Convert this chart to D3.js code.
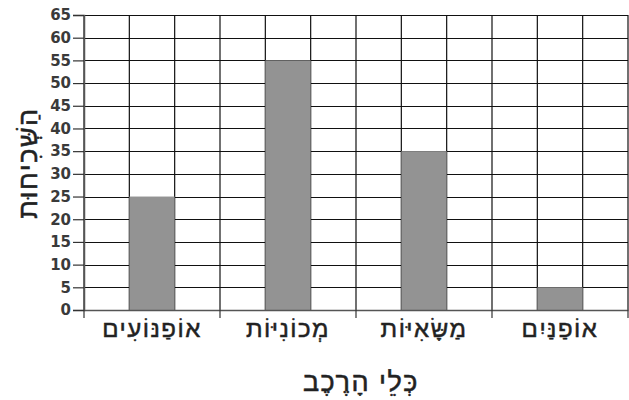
<!DOCTYPE html>
<html>
<head>
<meta charset="utf-8">
<script src="https://cdn.jsdelivr.net/npm/d3@7"></script>
<style>
  body { margin: 0; background: #fff; }
  svg { display: block; }
</style>
</head>
<body>
<svg id="chart"></svg>
<script>
// data, left to right as drawn
var categories = ["אוֹפַנּוֹעִים", "מְכוֹנִיּוֹת", "מַשָּׂאִיּוֹת", "אוֹפַנַּיִם"];
var values = [25, 55, 35, 5];
var yTicks = [0, 5, 10, 15, 20, 25, 30, 35, 40, 45, 50, 55, 60, 65];
var xTitle = "כְּלֵי הָרֶכֶב";
var yTitle = "הַשְּׁכִיחוּת";

var width = 629, height = 400;
var margin = {top: 15, right: 1, bottom: 90, left: 84};
var w = width - margin.left - margin.right,
    h = height - margin.top - margin.bottom;

var hebFont = "Liberation Sans, Arial, sans-serif";

var svg = d3.select("#chart").attr("width", width).attr("height", height);
var g = svg.append("g").attr("transform", "translate(" + margin.left + "," + margin.top + ")");

var x = d3.scaleBand().domain(categories).range([0, w]);
var y = d3.scaleLinear().domain([0, 65]).range([h, 0]);
// each category spans three grid columns, bar sits in the middle one
var sub = d3.scaleBand().domain([0, 1, 2]).range([0, x.bandwidth()]);

// horizontal grid
g.append("g").selectAll("line").data(yTicks).enter().append("line")
  .attr("x1", 0).attr("x2", w)
  .attr("y1", function(d) { return Math.round(y(d)) + 0.5; })
  .attr("y2", function(d) { return Math.round(y(d)) + 0.5; })
  .style("stroke", "#111").style("stroke-width", 1.2);

// vertical grid
var cols = [];
categories.forEach(function(c) { [0, 1, 2].forEach(function(i) { cols.push(x(c) + sub(i)); }); });
cols.push(w);
g.append("g").selectAll("line").data(cols).enter().append("line")
  .attr("x1", function(d) { return d; }).attr("x2", function(d) { return d; })
  .attr("y1", 0).attr("y2", h)
  .style("stroke", "#111").style("stroke-width", 1.2);

// bars
g.append("g").selectAll("rect").data(values).enter().append("rect")
  .attr("x", function(d, i) { return x(categories[i]) + sub(1); })
  .attr("width", sub.bandwidth())
  .attr("y", function(d) { return y(d); })
  .attr("height", function(d) { return h - y(d); })
  .style("fill", "#939393");

// y axis
var yAxis = g.append("g").call(d3.axisLeft(y).tickValues(yTicks).tickSize(11).tickPadding(2));
yAxis.select(".domain").style("stroke", "#555").style("stroke-width", 1.5);
yAxis.selectAll(".tick line").style("stroke", "#333").style("stroke-width", 1.2);
yAxis.selectAll("text")
  .style("font-family", "DejaVu Sans, sans-serif")
  .style("font-size", "15px").style("font-weight", "bold").style("fill", "#3a3a3a");

// x axis with ticks at category boundaries
var xAxis = g.append("g").attr("transform", "translate(0," + h + ")")
  .call(d3.axisBottom(x).tickSize(0).tickPadding(10));
xAxis.select(".domain").style("stroke", "#555").style("stroke-width", 1.5);
xAxis.selectAll("text")
  .style("font-family", hebFont)
  .style("font-size", "24px").style("letter-spacing", "1.5px")
  .style("fill", "#222").style("stroke", "#222").style("stroke-width", 0.5);
var bounds = categories.map(function(c) { return x(c); }).concat([w]);
xAxis.selectAll(".bound").data(bounds).enter().append("line")
  .attr("class", "bound")
  .attr("x1", function(d) { return d; }).attr("x2", function(d) { return d; })
  .attr("y1", 0).attr("y2", 8)
  .style("stroke", "#333").style("stroke-width", 1.2);

// titles
svg.append("text")
  .attr("x", 361).attr("y", 391)
  .attr("text-anchor", "middle")
  .style("font-family", hebFont)
  .style("font-size", "27px").style("letter-spacing", "1.5px")
  .style("fill", "#222").style("stroke", "#222").style("stroke-width", 0.5)
  .text(xTitle);

svg.append("text")
  .attr("transform", "translate(37," + 163 + ") rotate(-90)")
  .attr("text-anchor", "middle")
  .style("font-family", hebFont)
  .style("font-size", "27px").style("letter-spacing", "1.5px")
  .style("fill", "#222").style("stroke", "#222").style("stroke-width", 0.5)
  .text(yTitle);
</script>
</body>
</html>
